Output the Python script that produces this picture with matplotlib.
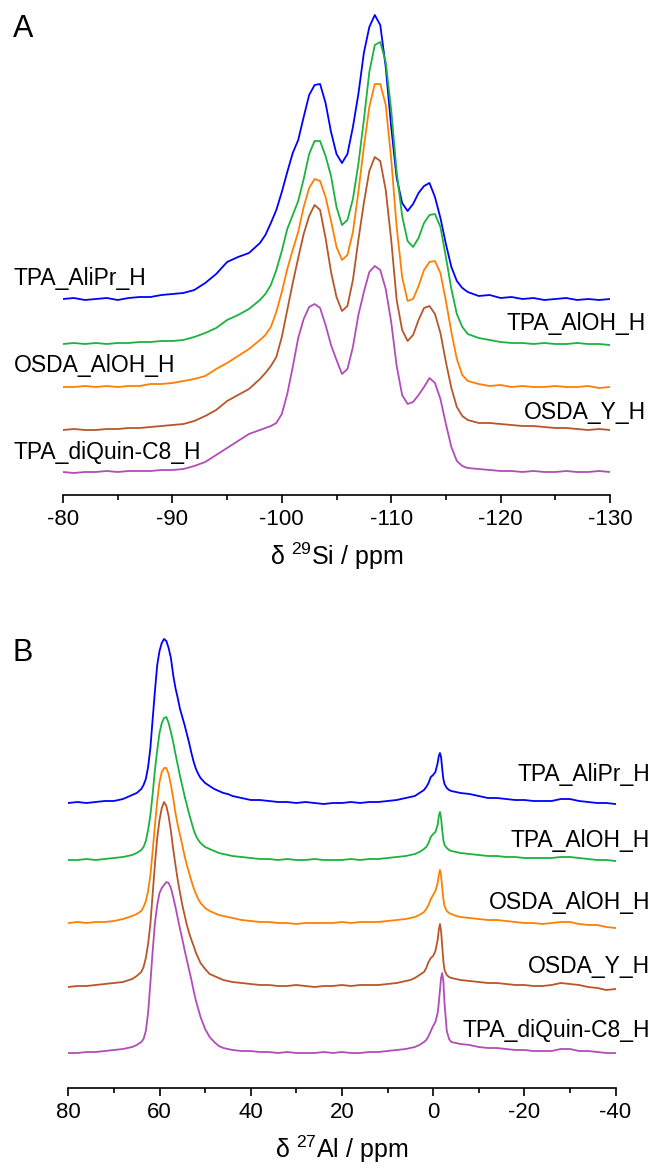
import numpy as np
import matplotlib
matplotlib.use('Agg')
import matplotlib.pyplot as plt
from matplotlib.ticker import MultipleLocator

plt.rcParams['font.family'] = ['Liberation Sans', 'DejaVu Sans']
plt.rcParams['mathtext.fontset'] = 'custom'
plt.rcParams['mathtext.rm'] = 'Liberation Sans'
plt.rcParams['mathtext.it'] = 'Liberation Sans:italic'
plt.rcParams['axes.unicode_minus'] = False

samples = ['TPA_AliPr_H', 'TPA_AlOH_H', 'OSDA_AlOH_H', 'OSDA_Y_H', 'TPA_diQuin-C8_H']
colors = ['#0000ff', '#1cb23e', '#ff8000', '#b8562a', '#b24cb8']

# ---- 29Si MAS NMR (panel A) ----
si_ppm = [-80, -81, -82, -83, -84, -85, -86, -87, -88, -89, -90, -91, -92, -93, -94, -95, -96, -97, -98,
          -98.5, -99, -99.5, -100, -100.5, -101, -101.5, -102, -102.5, -103, -103.5, -104, -104.5, -105,
          -105.5, -106, -106.5, -107, -107.5, -108, -108.5, -109, -109.5, -110, -110.5, -111, -111.5,
          -112, -112.5, -113, -113.5, -114, -114.5, -115, -115.5, -116, -116.5, -117,
          -118, -119, -120, -121, -122, -123, -124, -125, -126, -127, -128, -129, -130]

si_tpa_alipr = [1, 2, 0, 1, 2, 0, 2, 3, 3, 5, 6, 7, 10, 17, 26, 38, 43, 47, 57,
                65, 77, 90, 108, 128, 147, 160, 183, 205, 215, 216, 197, 168, 146,
                137, 146, 173, 206, 247, 273, 285, 275, 233, 173, 122, 97, 89,
                96, 107, 114, 117, 103, 82, 56, 33, 19, 12, 8,
                4, 5, 2, 3, 1, 2, 0, 1, 2, 0, 1, 0, 1]
si_tpa_aloh = [0, 1, 0, 1, 0, 1, 1, 2, 2, 3, 3, 4, 7, 11, 16, 24, 29, 35, 44,
               50, 59, 74, 93, 115, 129, 143, 165, 190, 203, 203, 188, 168, 137,
               119, 124, 145, 180, 224, 272, 299, 302, 282, 234, 172, 128, 103,
               97, 106, 121, 129, 130, 117, 87, 55, 30, 17, 10,
               6, 4, 2, 1, 1, 0, 1, 0, 0, 1, 0, 0, -1]
si_osda_aloh = [0, 0, 1, 0, 1, 0, 1, 1, 3, 3, 4, 6, 8, 11, 18, 24, 31, 38, 47,
                52, 60, 75, 95, 118, 137, 155, 180, 199, 208, 206, 190, 166, 140,
                127, 132, 155, 195, 240, 280, 303, 303, 282, 228, 160, 110, 86,
                88, 101, 117, 125, 126, 114, 86, 55, 28, 12, 6,
                3, 1, 2, 0, 1, 0, 0, 1, 0, 0, 1, -1, 0]
si_osda_y = [0, 1, 0, 0, 1, 1, 2, 2, 3, 4, 5, 6, 9, 14, 20, 29, 35, 41, 51,
             57, 64, 73, 93, 120, 147, 172, 196, 214, 225, 220, 192, 158, 133,
             119, 124, 150, 190, 227, 259, 273, 269, 240, 190, 130, 100, 89,
             95, 110, 122, 124, 116, 97, 68, 42, 23, 14, 10,
             7, 7, 6, 5, 4, 4, 3, 2, 2, 1, 0, 1, 0]
si_tpa_diquin = [0, -1, 0, 0, 1, 0, 1, 1, 1, 2, 2, 3, 6, 10, 17, 24, 31, 38, 42,
                 44, 46, 49, 58, 78, 105, 134, 153, 165, 168, 164, 147, 127, 112,
                 98, 103, 125, 157, 180, 200, 206, 202, 183, 150, 106, 77, 68,
                 70, 77, 85, 94, 89, 73, 48, 25, 11, 6, 4,
                 3, 2, 1, 1, 0, 1, 0, 0, 1, 0, 0, 1, 0]

# ---- 27Al MAS NMR (panel B) ----
al_ppm = [80, 78, 76, 74, 72, 70, 68, 66, 65, 64, 63.5, 63, 62.5, 62, 61.5, 61, 60.5, 60, 59.5, 59,
          58.5, 58, 57.5, 57, 56.5, 56, 55.5, 55, 54.5, 54, 53.5, 53, 52.5, 52, 51.5, 51, 50, 49, 48,
          47, 46, 45, 44, 42, 40, 38, 36, 34, 32, 30, 28, 26, 24, 22, 20, 18, 16, 14, 12, 10, 8, 6,
          5, 4, 3, 2, 1.5, 1, 0.5, 0, -0.5, -1, -1.25, -1.5, -1.75, -2, -2.25, -2.5, -3, -3.5, -4,
          -5, -6, -8, -10, -12, -14, -16, -18, -20, -22, -24, -26, -28, -30, -32, -34, -36, -38, -40]

al_tpa_alipr = [0, 1, 0, 1, 2, 2, 4, 8, 10, 14, 18, 24, 36, 55, 84, 112, 138, 152, 160, 164,
                162, 155, 145, 128, 115, 105, 94, 86, 78, 69, 60, 50, 41, 34, 29, 25, 20, 17, 14,
                12, 10, 9, 7, 5, 3, 3, 2, 1, 1, 0, 1, 0, -1, 0, 0, 1, 0, 1, 1, 2, 3, 5,
                6, 7, 10, 13, 16, 20, 26, 28, 31, 40, 47, 50, 46, 34, 24, 19, 15, 13, 12,
                11, 10, 9, 7, 5, 5, 4, 3, 3, 2, 2, 2, 4, 4, 2, 1, 0, 0, -1]
al_tpa_aloh = [0, 0, 1, 0, 1, 2, 3, 5, 7, 10, 13, 19, 30, 45, 66, 90, 110, 127, 137, 142,
               143, 137, 128, 118, 106, 95, 84, 74, 64, 55, 46, 38, 30, 24, 20, 17, 13, 11, 9,
               7, 6, 5, 4, 3, 2, 1, 1, 0, 1, 0, 0, 1, 0, 0, 0, 1, 0, 1, 1, 2, 3, 4,
               5, 6, 8, 11, 13, 17, 23, 26, 28, 35, 44, 48, 42, 30, 20, 15, 12, 10, 9,
               8, 7, 6, 5, 4, 4, 3, 3, 2, 2, 2, 2, 3, 3, 2, 1, 0, 0, -1]
al_osda_aloh = [0, 1, 0, 1, 1, 2, 4, 7, 9, 12, 16, 22, 32, 48, 72, 98, 122, 141, 151, 155,
                155, 149, 138, 125, 110, 98, 88, 78, 67, 58, 50, 42, 35, 29, 24, 20, 15, 12, 10,
                8, 7, 6, 5, 3, 2, 1, 1, 0, 0, -1, 0, 0, 0, 0, 1, 0, 1, 1, 1, 2, 3, 4,
                5, 6, 8, 11, 14, 18, 24, 28, 32, 40, 48, 53, 48, 35, 24, 17, 12, 10, 9,
                7, 6, 5, 4, 3, 3, 2, 1, 0, 0, -1, 0, 1, 1, -1, -2, -2, -4, -5]
al_osda_y = [-1, 0, 0, 1, 2, 3, 4, 7, 10, 14, 19, 28, 42, 62, 92, 122, 148, 166, 178, 184,
             180, 170, 155, 137, 121, 106, 93, 81, 71, 61, 53, 46, 40, 33, 28, 23, 17, 12, 10,
             8, 6, 5, 4, 3, 2, 1, 1, 0, 0, 1, 0, -1, 0, 0, 1, 0, 1, 1, 1, 2, 3, 5,
             6, 8, 11, 14, 18, 24, 28, 30, 35, 46, 56, 62, 55, 40, 25, 16, 11, 9, 8,
             7, 6, 5, 4, 3, 3, 2, 1, 1, 0, 0, 1, 3, 2, 1, -1, -2, -4, -3]
al_tpa_diquin = [0, 0, 1, 1, 2, 3, 4, 6, 8, 11, 14, 22, 40, 70, 102, 130, 148, 160, 165, 168,
                 171, 170, 165, 156, 146, 135, 124, 114, 103, 93, 83, 73, 62, 52, 44, 36, 24, 16, 11,
                 7, 5, 4, 3, 2, 2, 1, 1, 0, 1, 0, 0, 0, 1, 0, 1, 0, 0, 1, 1, 2, 3, 4,
                 5, 6, 8, 11, 13, 17, 22, 27, 31, 40, 50, 63, 75, 80, 72, 50, 22, 14, 11,
                 10, 9, 8, 6, 5, 5, 4, 3, 3, 2, 2, 2, 4, 4, 2, 2, 1, 0, 0]

si_spectra = [si_tpa_alipr, si_tpa_aloh, si_osda_aloh, si_osda_y, si_tpa_diquin]
al_spectra = [al_tpa_alipr, al_tpa_aloh, al_osda_aloh, al_osda_y, al_tpa_diquin]

# vertical stacking offsets (same units as intensities)
si_offsets = [195, 151, 108, 65, 23]
al_offsets = [285, 228, 165, 102, 35]

W, H = 654, 1170
fig = plt.figure(figsize=(W / 100., H / 100.), dpi=100)

axA = fig.add_axes([63 / W, (H - 495) / H, (610 - 63) / W, 495 / H])
axB = fig.add_axes([68.3 / W, (H - 1088) / H, (615.5 - 68.3) / W, (1088 - 600) / H])


def style_axis(ax, xlim, major, minor, xlabel):
    ax.set_xlim(xlim)
    for s in ['top', 'left', 'right']:
        ax.spines[s].set_visible(False)
    ax.spines['bottom'].set_linewidth(1.2)
    ax.set_yticks([])
    ax.xaxis.set_major_locator(MultipleLocator(major))
    ax.xaxis.set_minor_locator(MultipleLocator(minor))
    ax.tick_params(axis='x', which='major', direction='out', length=6, width=1.2,
                   labelsize=16, pad=4)
    ax.tick_params(axis='x', which='minor', direction='out', length=3.5, width=1.2)
    ax.set_xlabel(xlabel, fontsize=18, labelpad=8)
    ax.patch.set_alpha(0)


# panel A
for spec, off, c in zip(si_spectra, si_offsets, colors):
    axA.plot(si_ppm, np.array(spec) + off, color=c, lw=1.3)
axA.set_ylim(0, 495)
style_axis(axA, (-80, -130), 10, 5, 'δ $^{29}$Si / ppm')
si_label_pos = [(-75.5, 217, 'left'), (-133.3, 172, 'right'), (-75.5, 130, 'left'),
                (-133.3, 83, 'right'), (-75.5, 43, 'left')]
for (x, y, ha), name in zip(si_label_pos, samples):
    axA.text(x, y, name, ha=ha, va='center', fontsize=16.5, clip_on=False)

# panel B
for spec, off, c in zip(al_spectra, al_offsets, colors):
    axB.plot(al_ppm, np.array(spec) + off, color=c, lw=1.3)
axB.set_ylim(0, 488)
style_axis(axB, (80, -40), 20, 10, 'δ $^{27}$Al / ppm')
al_label_y = [313, 248, 185, 121, 58]
for y, name in zip(al_label_y, samples):
    axB.text(-47.6, y, name, ha='right', va='center', fontsize=16.5, clip_on=False)

fig.text(23 / W, 1 - 29 / H, 'A', fontsize=22, ha='center', va='center')
fig.text(23 / W, 1 - 653 / H, 'B', fontsize=22, ha='center', va='center')

fig.savefig('out.png', dpi=100)
